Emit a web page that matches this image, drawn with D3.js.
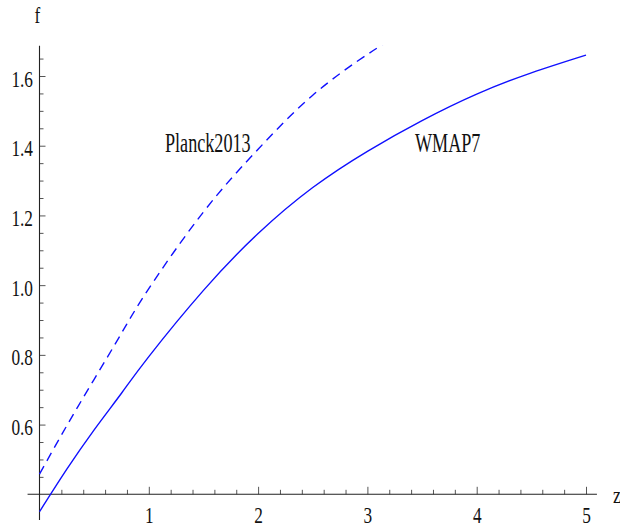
<html>
<head>
<script src="https://d3js.org/d3.v7.min.js"></script>
<style>
body { margin: 0; background: #fff; }
svg { display: block; }
text { font-family: 'Liberation Serif', 'DejaVu Serif', serif; fill: #111; }
</style>
</head>
<body>
<div id="plot"></div>
<script>

var width = 620;
var height = 529;

// WMAP7 curve (solid)
var zWmap = [0, 0.25, 0.5, 0.75, 1, 1.5, 2, 2.5, 3, 3.5, 4, 4.5, 5];
var fWmap = [0.35, 0.472, 0.585, 0.69, 0.795, 0.985, 1.148, 1.28, 1.384, 1.472, 1.548, 1.609, 1.66];

// Planck2013 curve (dashed)
var zPlanck = [0, 0.25, 0.5, 0.75, 1, 1.5, 2, 2.5, 3, 3.25];
var fPlanck = [0.458, 0.597, 0.73, 0.862, 0.99, 1.21, 1.39, 1.545, 1.662, 1.71];

var xMajor = [1, 2, 3, 4, 5];
var yMajor = [0.6, 0.8, 1.0, 1.2, 1.4, 1.6];

var svg = d3.select("#plot").append("svg")
.attr("width", width).attr("height", height);

var xScale = d3.scaleLinear().domain([0, 5]).range([39.5, 586]);
var yScale = d3.scaleLinear().domain([0.4, 1.6]).range([494.3, 76]);

// plot range
var zMin = -0.1, zMax = 5.1, fMin = 0.326, fMax = 1.687;

svg.append("clipPath").attr("id", "clip")
.append("rect")
.attr("x", xScale(zMin)).attr("y", yScale(fMax))
.attr("width", xScale(zMax) - xScale(zMin))
.attr("height", yScale(fMin) - yScale(fMax));

/*** Axes ***/
var xMinor = d3.range(1, 26).map(function (i) { return i * 0.2; })
.filter(function (v) { return Math.abs(v - Math.round(v)) > 1e-6; });
var yMinor = d3.range(9, 34).map(function (i) { return i * 0.05; })
.filter(function (v) { return Math.abs(v * 5 - Math.round(v * 5)) > 1e-6; });

var xAxisG = svg.append("g").attr("transform", "translate(0," + yScale(0.4) + ")");
xAxisG.append("g").call(d3.axisBottom(xScale).tickValues(xMinor).tickSize(-4.5).tickFormat(""));
xAxisG.append("g").call(d3.axisBottom(xScale).tickValues(xMajor).tickSize(-7.5).tickPadding(12).tickFormat(d3.format("d")));

var yAxisG = svg.append("g").attr("transform", "translate(" + xScale(0) + ",0)");
yAxisG.append("g").call(d3.axisLeft(yScale).tickValues(yMinor).tickSize(-4).tickFormat(""));
yAxisG.append("g").call(d3.axisLeft(yScale).tickValues(yMajor).tickSize(-6).tickPadding(6.5).tickFormat(d3.format(".1f")));

svg.selectAll(".domain").remove();
svg.selectAll("g").attr("font-family", null).attr("font-size", null);
svg.selectAll(".tick line").style("stroke", "#555").style("stroke-width", 1);
svg.selectAll(".tick text")
.attr("font-family", "Liberation Serif")
.attr("font-size", 24)
.style("fill", "#111");
xAxisG.selectAll(".tick text").attr("transform", "scale(0.72,1)");
yAxisG.selectAll(".tick text").attr("x", -6.5 / 0.72).attr("dy", "0.42em").attr("transform", "scale(0.72,1)");

// axis lines
svg.append("line")
.attr("x1", xScale(zMin) - 1).attr("x2", xScale(zMax))
.attr("y1", yScale(0.4)).attr("y2", yScale(0.4))
.style("stroke", "#222").style("stroke-width", 1.1);
svg.append("line")
.attr("x1", xScale(0)).attr("x2", xScale(0))
.attr("y1", yScale(fMin)).attr("y2", yScale(fMax))
.style("stroke", "#222").style("stroke-width", 1.1);

// axis labels
svg.append("text").text("f")
.attr("transform", "translate(" + (xScale(0) - 5) + ",23) scale(0.75,1)")
.attr("font-size", 23);
svg.append("text").text("z")
.attr("transform", "translate(" + (xScale(zMax) + 16) + "," + (yScale(0.4) + 9) + ") scale(0.75,1)")
.attr("font-size", 24);

/*** Curves ***/
var line = d3.line()
.x(function (d) { return xScale(d[0]); })
.y(function (d) { return yScale(d[1]); })
.curve(d3.curveNatural);

var wmap = d3.zip(zWmap, fWmap);
var planck = d3.zip(zPlanck, fPlanck);

var curves = svg.append("g").attr("clip-path", "url(#clip)");
curves.append("path").datum(wmap)
.attr("d", line)
.style("fill", "none").style("stroke", "#1010ff").style("stroke-width", 1.4);
curves.append("path").datum(planck)
.attr("d", line)
.style("fill", "none").style("stroke", "#1010ff").style("stroke-width", 1.4)
.style("stroke-dasharray", "9,6");

// curve labels
svg.append("text").text("Planck2013")
.attr("transform", "translate(" + xScale(1.148) + "," + yScale(1.383) + ") scale(0.66,1)")
.attr("font-size", 27.5);
svg.append("text").text("WMAP7")
.attr("transform", "translate(" + xScale(3.435) + "," + yScale(1.383) + ") scale(0.66,1)")
.attr("font-size", 27.5);

</script>
</body>
</html>
